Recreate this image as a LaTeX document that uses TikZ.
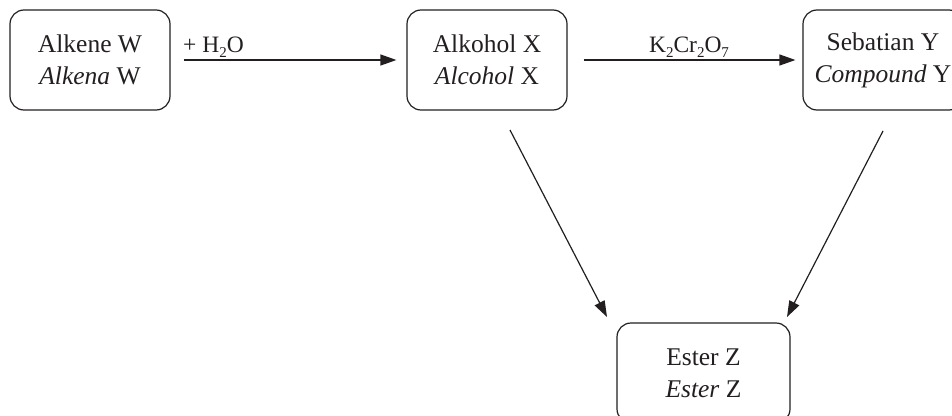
\documentclass[tikz,border=0pt]{standalone}
\usepackage{fontspec}
\setmainfont{Liberation Serif}
\usetikzlibrary{arrows.meta}
\definecolor{ink}{HTML}{231F20}
\newcommand\sbs[1]{\raisebox{-0.5ex}{\fontsize{15}{15}\selectfont #1}}
\begin{document}
\begin{tikzpicture}[x=1pt,y=-1pt,
  box/.style={draw=ink, line width=1.2pt, rounded corners=14pt, minimum width=160pt, minimum height=100pt,
    align=center, inner sep=0pt, text=ink, font=\fontsize{25.5}{32}\selectfont},
  arr/.style={draw=ink, line width=1.2pt, -{Triangle[length=16pt,width=11pt]}},
  lab/.style={text=ink, font=\fontsize{23.5}{26}\selectfont, inner sep=0pt}]
\useasboundingbox (0,0) rectangle (952,415);
\node[box] (W) at (90,60) {Alkene W\\\textit{Alkena} W};
\node[box] (X) at (487,60) {Alkohol X\\\textit{Alcohol} X};
\node[box] (Y) at (883,60) {Sebatian Y\\\textit{Compound} Y};
\node[box, minimum width=173pt] (Z) at (703.5,373) {Ester Z\\\textit{Ester} Z};
\draw[arr] ([xshift=13pt]W.east) -- ([xshift=-10pt]X.west);
\draw[arr] ([xshift=16pt]X.east) -- ([xshift=-7pt]Y.west);
\node[lab, anchor=base west] (l1) at (183,52) {+ H\sbs{2}O};
\node[lab, anchor=base] (l2) at (689,52) {K\sbs{2}Cr\sbs{2}O\sbs{7}};
\coordinate (xs) at (510,130);
\coordinate (zl) at (607,317);
\coordinate (ys) at (883,131);
\coordinate (zr) at (787,317);
\draw[arr] (xs) -- (zl);
\draw[arr] (ys) -- (zr);
\end{tikzpicture}
\end{document}
